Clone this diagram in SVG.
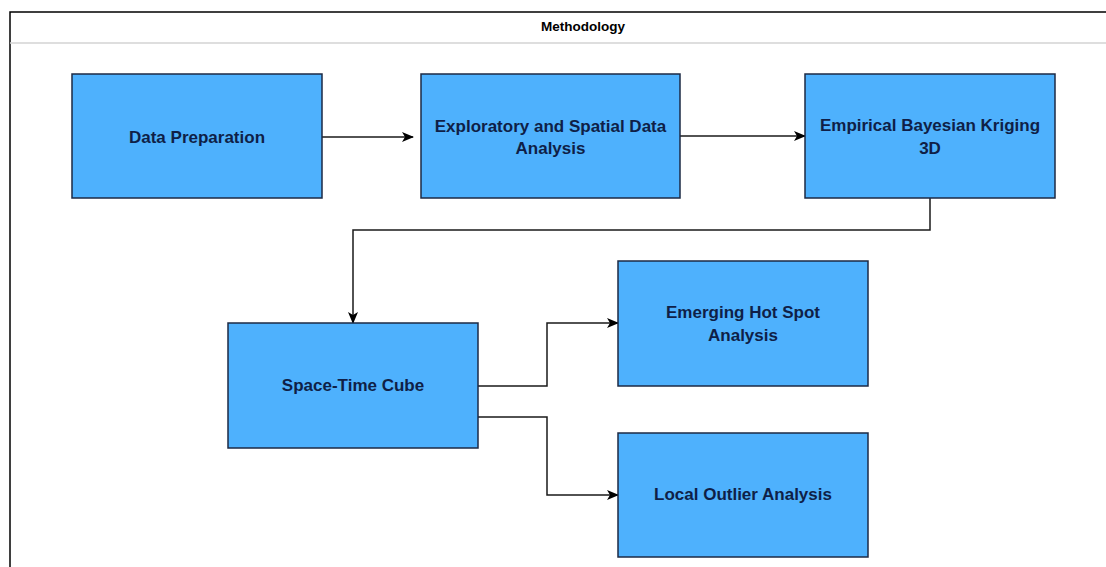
<svg xmlns="http://www.w3.org/2000/svg" width="1106" height="567" viewBox="0 0 1106 567">
<defs>
<style>
.node rect{fill:#4eb1fd;stroke:#1c2a44;stroke-width:1.5}
.node text{font-family:"Liberation Sans",Arial,sans-serif;font-weight:bold;font-size:17px;fill:#0f1f47;text-anchor:middle}
.conn path{fill:none;stroke:#1a1a1a;stroke-width:1.5}
.title{font-family:"Liberation Sans",Arial,sans-serif;font-weight:bold;font-size:13.5px;fill:#000;text-anchor:middle}
</style>
<marker id="arr" viewBox="0 0 12 10" refX="11" refY="5" markerWidth="12" markerHeight="10" markerUnits="userSpaceOnUse" orient="auto">
<path d="M0,0 L12,5 L0,10 L3,5 Z" fill="#000"/>
</marker>
</defs>
<rect width="1106" height="567" fill="#ffffff"/>
<g id="frame">
<path d="M10,567 V12 H1106" fill="none" stroke="#000" stroke-width="1.5"/>
<line x1="10" y1="43" x2="1106" y2="43" stroke="#d3d3d3" stroke-width="1.5"/>
<text class="title" x="583" y="31">Methodology</text>
</g>
<g id="connectors" class="conn">
<path d="M322,137 H413" marker-end="url(#arr)"/>
<path d="M680,136 H805" marker-end="url(#arr)"/>
<path d="M930,198 V230 H353 V323" marker-end="url(#arr)"/>
<path d="M478,386 H547 V323 H618" marker-end="url(#arr)"/>
<path d="M478,417 H547 V495 H618" marker-end="url(#arr)"/>
</g>
<g id="data-preparation" class="node">
<rect x="72" y="74" width="250" height="124"/>
<text x="197" y="143">Data Preparation</text>
</g>
<g id="exploratory" class="node">
<rect x="421" y="74" width="259" height="124"/>
<text x="550.5" y="132">Exploratory and Spatial Data</text>
<text x="550.5" y="154">Analysis</text>
</g>
<g id="ebk3d" class="node">
<rect x="805" y="74" width="250" height="124"/>
<text x="930" y="131">Empirical Bayesian Kriging</text>
<text x="930" y="154">3D</text>
</g>
<g id="space-time-cube" class="node">
<rect x="228" y="323" width="250" height="125"/>
<text x="353" y="391">Space-Time Cube</text>
</g>
<g id="emerging-hot-spot" class="node">
<rect x="618" y="261" width="250" height="125"/>
<text x="743" y="318">Emerging Hot Spot</text>
<text x="743" y="341">Analysis</text>
</g>
<g id="local-outlier" class="node">
<rect x="618" y="433" width="250" height="124"/>
<text x="743" y="500">Local Outlier Analysis</text>
</g>
</svg>
